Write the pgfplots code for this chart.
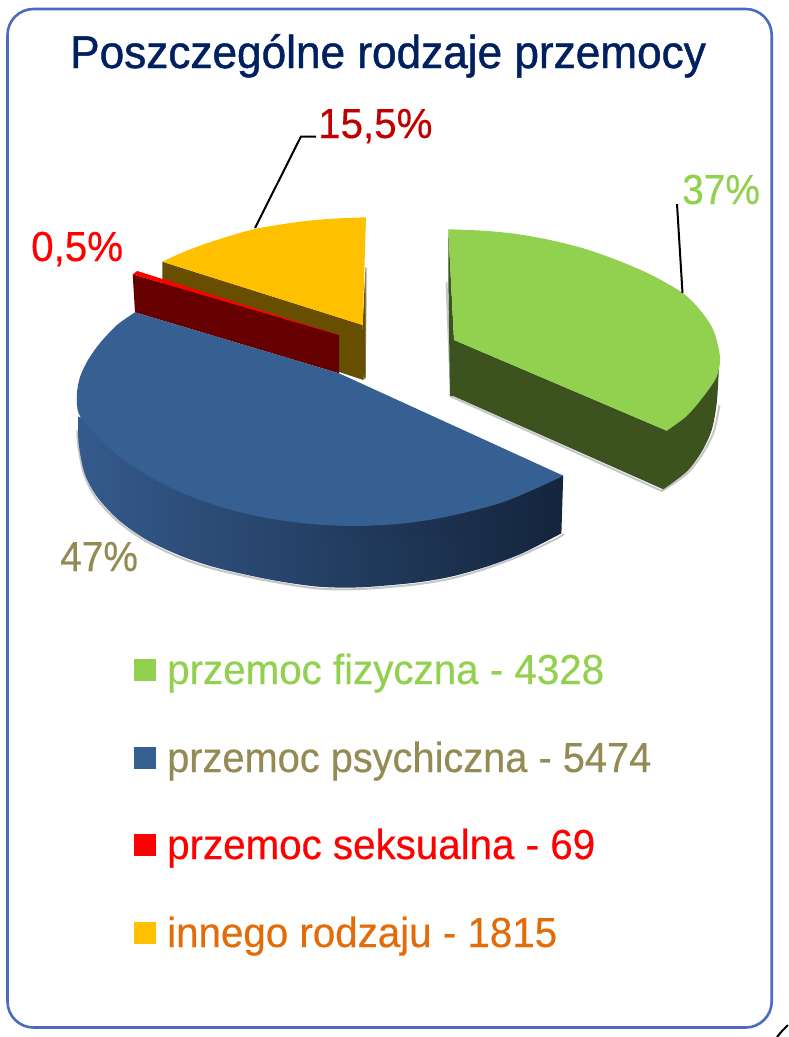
\documentclass[border=0pt]{standalone}
\usepackage{pgfplots}
\pgfplotsset{compat=1.18}
\usepackage{fontspec}
\setmainfont{Liberation Sans}
\newfontfamily\ff[FakeStretch=0.96,FakeBold=0.4]{Liberation Sans}
\newfontfamily\ffp[FakeStretch=0.947,FakeBold=0.4]{Liberation Sans}
\newfontfamily\ffn[FakeStretch=0.925,FakeBold=0.4]{Liberation Sans}
\newfontfamily\fft[FakeStretch=0.96,FakeBold=1.0]{Liberation Sans}
\definecolor{frameb}{HTML}{4A6BBE}
\definecolor{navy}{HTML}{002060}
\definecolor{gtop}{HTML}{92D050}
\definecolor{gside}{HTML}{3C5320}
\definecolor{btop}{HTML}{376092}
\definecolor{bl}{HTML}{355A8C}
\definecolor{bm}{HTML}{243D62}
\definecolor{br}{HTML}{14253C}
\definecolor{ytop}{HTML}{FFC000}
\definecolor{yside}{HTML}{674E00}
\definecolor{rside}{HTML}{660000}
\definecolor{olive}{HTML}{948A54}
\definecolor{orng}{HTML}{E36C09}
\definecolor{dred}{HTML}{C00000}
\begin{document}
\begin{tikzpicture}
\begin{axis}[
  scale only axis, width=789pt, height=1037pt,
  xmin=0, xmax=789, ymin=0, ymax=1037, y dir=reverse,
  axis lines=none, clip=true]
% frame
\draw[frameb, line width=2.6pt, rounded corners=26pt] (axis cs:7.5,9) rectangle (axis cs:771.7,1027.5);
\addplot[black, line width=2pt] coordinates {(777,1037)(782,1031)(788,1025)};
% shadows
\addplot[gray, opacity=.45, line width=2pt] coordinates {(446.5,282)(451,396.5)(662,491)};
\addplot[gray, opacity=.45, line width=2pt, smooth] coordinates {(662,491)(687,473.5)(703,453)(714,431)(719.5,405)};
\addplot[gray, opacity=.45, line width=2pt, smooth] coordinates {(77.5,430)(78,444)(84,474)(96,498)(118,521.5)(146.5,541.5)(182,558.5)(218,570)(272,581.5)(318,588.5)(361,589)(415,584.5)(451,578.5)(486,568.5)(522,555)(554,540)(564,534)};
\addplot[gray, opacity=.45, line width=1.5pt] coordinates {(366.5,268)(365,379)};
% yellow
\addplot[fill=yside, draw=none] coordinates {(162.3,261.7)(362.7,325)(363.3,380)(162.3,313)};
\addplot[fill=yside, draw=none] coordinates {(362.7,325)(365.5,267)(365.5,377)(363.3,380)};
\addplot[fill=ytop, draw=none, smooth] coordinates {(162.3,261.7)(186.7,250.7)(216.7,240)(255,229)(300,221.7)(333.3,218.7)(366,217.3)};
\addplot[fill=ytop, draw=none] coordinates {(162.3,261.7)(362.7,325)(366,217.3)(280,230)};
% red
\addplot[fill=rside, draw=none] coordinates {(132.7,274.3)(339,335)(339,373.3)(135,312.3)};
\addplot[fill=red, draw=none] coordinates {(132.7,274.3)(137.3,271)(339,335)};
% blue side
\addplot[left color=bl, middle color=bm, right color=br, draw=none, smooth] coordinates {(561.4,533.3)(522.1,553.3)(486.4,566.7)(450.7,576.7)(415,582.7)(361.4,587.3)(318.6,586.7)(272,580)(218.6,568.3)(182.9,556.7)(147,540)(118.6,520)(97,496.7)(84.6,473.3)(78.6,443.3)(78.2,416.7)};
\addplot[left color=bm, right color=br, draw=none] coordinates {(320,500)(563.2,475.7)(561.4,533.3)(320,540)};
% blue top
\addplot[fill=btop, draw=none, smooth] coordinates {(563.2,475.7)(540,486.7)(504.3,501.7)(468.6,511.7)(432.9,519.3)(397.1,524)(354.3,526)(311.4,524)(268.6,518.3)(225.7,508.3)(182.9,493.3)(147.1,475)(111.4,450)(90,428.3)(78.6,413.3)(76.8,395)(80,377)(88,360)(100,343)(117,325)(135,312.3)};
\addplot[fill=btop, draw=none] coordinates {(135,312.3)(339,373.3)(563.2,475.7)(354,500)(100,400)};
% green
\addplot[fill=gside, draw=none, smooth] coordinates {(719,366.7)(716.7,403.3)(711.7,430)(701.7,451.7)(686.7,471.7)(663.3,489.3)};
\addplot[fill=gside, draw=none] coordinates {(448.3,229.3)(454,340)(666.7,430.7)(719,366.7)(700,430)(663.3,489.3)(453.3,396)(450,396)(448.3,280)};
\addplot[fill=gtop, draw=none, smooth] coordinates {(448.3,229.3)(483.3,230.7)(516.7,234)(550,240)(583.3,248.3)(616.7,260)(650,274.3)(682.3,292.7)(700,310)(713.3,330)(720,356.7)(716.7,376.7)(703.3,396.7)(686.7,416)(666.7,430.7)};
\addplot[fill=gtop, draw=none] coordinates {(448.3,229.3)(454,340)(666.7,430.7)(620,320)};
% leaders
\addplot[black, line width=2pt] coordinates {(255,228)(301,136.5)(316,136.5)};
\addplot[black, line width=2pt] coordinates {(682.5,293)(677,204)};
% legend squares
\addplot[fill=gtop, draw=none] coordinates {(134,659)(156,659)(156,681)(134,681)};
\addplot[fill=btop, draw=none] coordinates {(134,747)(156,747)(156,769)(134,769)};
\addplot[fill=red, draw=none] coordinates {(134,834)(156,834)(156,856)(134,856)};
\addplot[fill=ytop, draw=none] coordinates {(134,922)(156,922)(156,944)(134,944)};
% texts
\tikzset{t/.style={anchor=base west, inner sep=0pt, font=\ff\fontsize{42}{46}\selectfont},
 n/.style={anchor=base west, inner sep=0pt, font=\ffn\fontsize{42}{46}\selectfont}}
\node[t, text=navy, font=\fft\fontsize{46}{50}\selectfont] at (axis cs:70,68) {Poszczególne rodzaje przemocy};
\node[t, text=dred] at (axis cs:318,138) {15,5\%};
\node[n, text=gtop] at (axis cs:682,204) {37\%};
\node[t, text=red] at (axis cs:31,261) {0,5\%};
\node[n, text=olive] at (axis cs:60,571) {47\%};
\node[t, text=gtop] at (axis cs:167,684) {przemoc fizyczna - 4328};
\node[t, text=olive, font=\ffp\fontsize{42}{46}\selectfont] at (axis cs:167,772) {przemoc psychiczna - 5474};
\node[t, text=red] at (axis cs:167,859) {przemoc seksualna - 69};
\node[t, text=orng] at (axis cs:167,947) {innego rodzaju - 1815};
\end{axis}
\pgfresetboundingbox
\path[use as bounding box] (0,0) rectangle (789pt,1037pt);
\end{tikzpicture}
\end{document}
